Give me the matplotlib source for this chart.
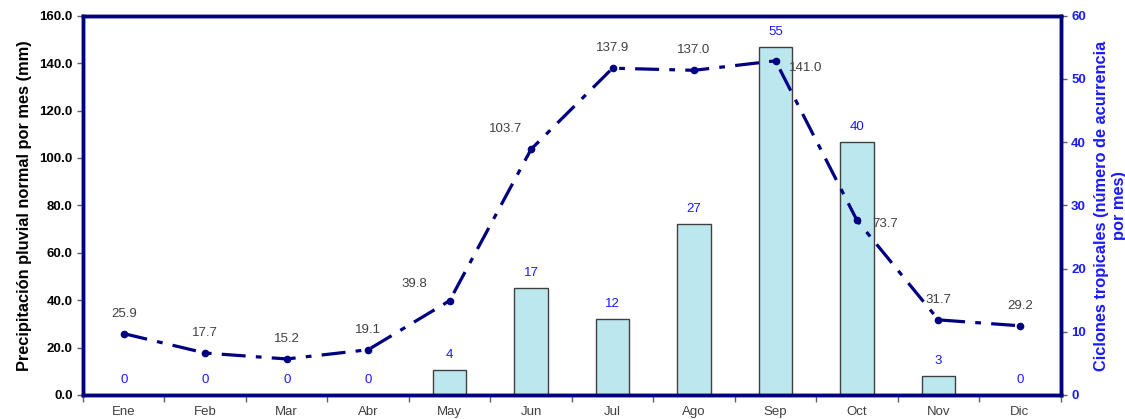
import numpy as np
from matplotlib import pyplot as plt

meses = ["Ene", "Feb", "Mar", "Abr", "May", "Jun", "Jul", "Ago", "Sep", "Oct", "Nov", "Dic"]
precip = [25.9, 17.7, 15.2, 19.1, 39.8, 103.7, 137.9, 137.0, 141.0, 73.7, 31.7, 29.2]
ciclones = [0, 0, 0, 0, 4, 17, 12, 27, 55, 40, 3, 0]

# label offsets (pixels) for the precipitation values
lab_dx = [0, 0, 0, 0, -35, -26, 0, 0, 30, 28, 0, 0]
lab_dy = [20, 20, 20, 20, 17, 20, 20, 20, -7, -4, 20, 20]

plt.rcParams['font.family'] = ['Liberation Sans', 'DejaVu Sans']
navy = "#000080"
azul = "#1a1aff"

fig = plt.figure(figsize=(11.25, 4.19), dpi=100)
ax = fig.add_axes([0.0738, 0.0573, 0.869, 0.905])
ax2 = ax.twinx()
x = np.arange(len(meses))

ax2.bar(x, ciclones, width=0.41, color="#bce7ef", edgecolor="#404040", linewidth=1.0)
for xi, c in zip(x, ciclones):
    ax2.annotate(str(c), (xi, c), xytext=(0, 10.8), textcoords="offset points",
                 ha="center", va="center", color=azul, fontsize=9.5)
ax2.set_ylim(0, 60)
ax2.set_yticks(range(0, 61, 10))
ax2.tick_params(axis="y", colors=azul, labelsize=9.5, length=4, width=1)
for t in ax2.get_yticklabels():
    t.set_fontweight("bold")
    t.set_color(azul)
ax2.tick_params(axis="y", color="#606060")
ax2.set_ylabel("Ciclones tropicales (número de acurrencia\npor mes)", color=azul,
               fontsize=11.8, fontweight="bold", labelpad=6)

ax.set_zorder(ax2.get_zorder() + 1)
ax.patch.set_visible(False)
ax.plot(x, precip, color=navy, linewidth=2.3, dashes=(7.5, 3.2, 1.8, 3.2),
        marker="o", markersize=4.5)
for xi, p, dx, dy in zip(x, precip, lab_dx, lab_dy):
    ax.annotate("%.1f" % p, (xi, p), xytext=(dx * 0.72, dy * 0.72), textcoords="offset points",
                ha="center", va="center", color="#404040", fontsize=9.5)

ax.set_ylim(0, 160)
ax.set_yticks(range(0, 161, 20))
ax.set_yticklabels(["%.1f" % v for v in range(0, 161, 20)], fontweight="bold", fontsize=9.5)
ax.set_ylabel("Precipitación pluvial normal por mes (mm)", fontsize=11.8, fontweight="bold", labelpad=5)
ax.tick_params(axis="y", color="#606060", length=4, width=1)

ax.set_xlim(-0.5, 11.5)
ax.set_xticks(x)
ax.set_xticklabels(meses, color="#404040", fontsize=9.5)
ax.set_xticks(np.arange(-0.5, 12, 1), minor=True)
ax.tick_params(axis="x", which="major", length=0, pad=8)
ax.tick_params(axis="x", which="minor", length=5, color="#606060", width=1)

for a in (ax, ax2):
    for s in a.spines.values():
        s.set_color(navy)
        s.set_linewidth(2.5)

plt.savefig("out.png", dpi=100)
